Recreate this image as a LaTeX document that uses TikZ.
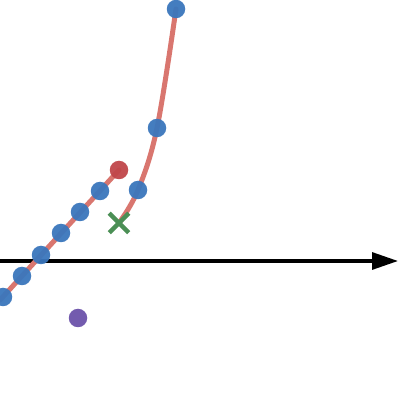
\documentclass[tikz,border=0pt]{standalone}
\usepackage{tikz}
\usetikzlibrary{arrows.meta,shapes.misc}

\definecolor{ptblue}{HTML}{3A76BC}
\definecolor{ptred}{HTML}{C0464A}
\definecolor{ptline}{HTML}{D9766F}
\definecolor{ptgreen}{HTML}{4B8F55}
\definecolor{ptpurple}{HTML}{6B52AA}

\begin{document}
\begin{tikzpicture}[x=1pt,y=1pt]
	\tikzstyle{dot}=[circle,inner sep=0pt,minimum size=18.5pt,fill=ptblue,opacity=0.95]
	\tikzstyle{path line}=[ptline,line width=5pt,line cap=round]
	\useasboundingbox (0,0) rectangle (400,400);
	%
	% points
	\coordinate (o) at (0,139);
	\coordinate (e) at (398,139);
	\coordinate (start) at (0,100);
	\coordinate (a0) at (3,103);
	\coordinate (a1) at (22,124);
	\coordinate (a2) at (41,145);
	\coordinate (a3) at (61,167);
	\coordinate (a4) at (80,188);
	\coordinate (a5) at (100,209);
	\coordinate (r) at (119,230);
	\coordinate (g) at (119,177);
	\coordinate (b1) at (138,210);
	\coordinate (b2) at (157,272);
	\coordinate (b3) at (176,391);
	\coordinate (p) at (78,82);
	%
	% axis
	\draw [line width=3.2pt,-{Triangle[length=26pt,width=17pt]}] (o) -- (e);
	%
	% curves
	\draw [path line] (start) -- (r);
	\draw [path line] plot [smooth,tension=0.6] coordinates {(g) (b1) (b2) (b3)};
	%
	\node [dot] (n0) at (a0) {};
	\node [dot] (n1) at (a1) {};
	\node [dot] (n2) at (a2) {};
	\node [dot] (n3) at (a3) {};
	\node [dot] (n4) at (a4) {};
	\node [dot] (n5) at (a5) {};
	\node [dot,fill=ptred] (nr) at (r) {};
	\node [dot] (m1) at (b1) {};
	\node [dot] (m2) at (b2) {};
	\node [dot] (m3) at (b3) {};
	\node [dot,fill=ptpurple] (np) at (p) {};
	\node [cross out,draw=ptgreen,line width=4.5pt,minimum size=15pt,inner sep=0pt] (ng) at (g) {};
\end{tikzpicture}
\end{document}
